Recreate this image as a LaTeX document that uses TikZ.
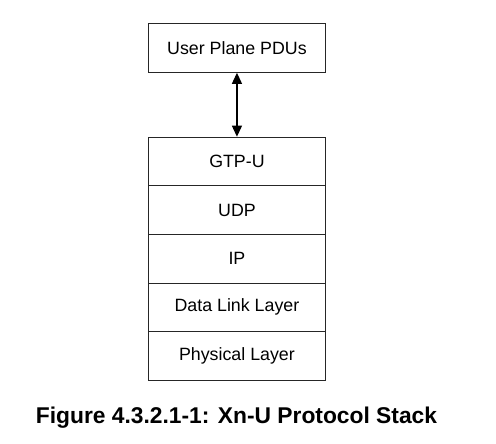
\documentclass[tikz,border=0pt]{standalone}
\usepackage{fontspec}
\setmainfont{Liberation Sans}
\usetikzlibrary{arrows.meta}
\begin{document}
\begin{tikzpicture}[x=1pt,y=-1pt,
  layer/.style={draw=black!85,line width=0.9pt,minimum width=177pt,minimum height=48.6pt,inner sep=0pt,font=\fontsize{17.8}{20}\selectfont,anchor=north west},
  link/.style={line width=1.1pt,{Triangle[length=11pt,width=10pt]}-{Triangle[length=11pt,width=10pt]}}]
\useasboundingbox (0,0) rectangle (496,444);
\node[layer,minimum height=48.6pt] (pdu) at (148,23.3) {User Plane PDUs};
\node[layer] (gtp) at (148,136.7) {GTP-U};
\node[layer] (udp) at (148,185.3) {UDP};
\node[layer] (ip) at (148,233.9) {IP};
\node[layer] (dll) at (148,282.5) {Data Link Layer};
\node[layer] (phy) at (148,331.1) {Physical Layer};
\draw[link] (pdu.south) -- (gtp.north);
\node[font=\bfseries\fontsize{22.8}{26}\selectfont] (cap) at (236.5,418) {Figure 4.3.2.1-1: Xn-U Protocol Stack};
\end{tikzpicture}
\end{document}
